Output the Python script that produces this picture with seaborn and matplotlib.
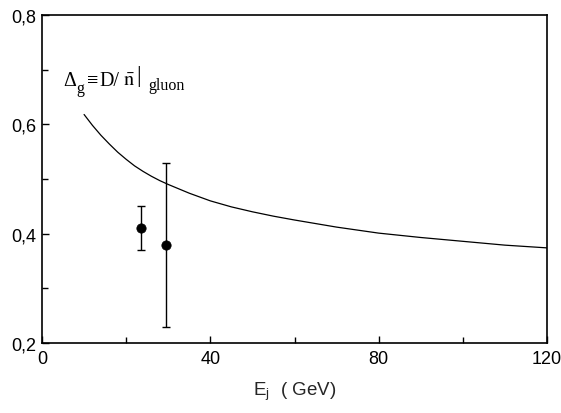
import matplotlib
matplotlib.use("Agg")
import matplotlib.pyplot as plt
import seaborn as sns
import pandas as pd
from matplotlib.ticker import FuncFormatter, MultipleLocator

# Theory curve
curve_x = [10, 12, 14, 16, 18, 20, 22, 24, 26, 28, 30, 35, 40, 45, 50, 55, 60, 70, 80, 90, 100, 110, 120]
curve_y = [0.618, 0.598, 0.580, 0.564, 0.549, 0.536, 0.524, 0.514, 0.505, 0.497, 0.490, 0.474, 0.460, 0.449,
           0.440, 0.432, 0.425, 0.412, 0.401, 0.393, 0.386, 0.379, 0.374]

# Data points
pt_x = [23.5, 29.4]
pt_y = [0.41, 0.38]
err_lo = [0.04, 0.15]
err_hi = [0.04, 0.15]

sns.set_theme(style="white")
plt.rcParams['font.family'] = ['Liberation Sans', 'DejaVu Sans']
plt.rcParams['mathtext.fontset'] = 'stix'

fig = plt.figure(figsize=(5.61, 4.14), dpi=100)
ax = fig.add_axes([42/561, 1-344/414, (547-42)/561, (344-16)/414])

curve = pd.DataFrame({"E": curve_x, "D": curve_y})
pts = pd.DataFrame({"E": pt_x, "D": pt_y})

sns.lineplot(data=curve, x="E", y="D", ax=ax, color="black", linewidth=0.9)
ax.errorbar(pt_x, pt_y, yerr=[err_lo, err_hi], fmt="none", ecolor="black",
            elinewidth=1.0, capsize=3, capthick=1.0)
sns.scatterplot(data=pts, x="E", y="D", ax=ax, color="black", s=45, edgecolor="black", zorder=5)

ax.set_xlim(0, 120)
ax.set_ylim(0.2, 0.8)
ax.xaxis.set_major_locator(MultipleLocator(40))
ax.xaxis.set_minor_locator(MultipleLocator(20))
ax.yaxis.set_major_locator(MultipleLocator(0.2))
ax.yaxis.set_minor_locator(MultipleLocator(0.1))
ax.xaxis.set_major_formatter(FuncFormatter(lambda v, p: f"{v:.0f}"))
ax.yaxis.set_major_formatter(FuncFormatter(lambda v, p: f"{v:.1f}".replace('.', ',')))

ax.tick_params(axis='both', which='both', direction='in', bottom=True, left=True,
               top=False, right=False, colors='black', labelsize=13)
ax.tick_params(which='major', length=5, width=1.0)
ax.tick_params(which='minor', length=4, width=1.0)
ax.tick_params(axis='x', pad=5)
ax.tick_params(axis='y', pad=4)

for s in ax.spines.values():
    s.set_color('black')
    s.set_linewidth(1.2)

ax.set_xlabel(r"E$_\mathregular{j}$  ( GeV)", fontsize=13.5, labelpad=9)
ax.set_ylabel("")

# Annotation built from pieces (serif), anchored at data point (5.0, 0.672)
anchor = (5.0, 0.672)
serif = ['Liberation Serif', 'DejaVu Serif']
pieces = [
    ("\u0394", 0, 0, 14.5),
    ("g", 13, -7, 11.5),
    ("\u2261", 24, 0, 14.5),
    ("D/", 36, 0, 14.5),
    ("gluon", 85, -4, 11.5),
]
for txt, dx, dy, fs in pieces:
    ax.annotate(txt, xy=anchor, xycoords='data', xytext=(dx, dy), textcoords='offset pixels',
                fontsize=fs, family=serif, ha='left', va='baseline', color='black')
ax.annotate(r"$\bar{\mathrm{n}}$", xy=anchor, xycoords='data', xytext=(60, 0),
            textcoords='offset pixels', fontsize=14.5, ha='left', va='baseline', color='black')
ax.annotate("|", xy=anchor, xycoords='data', xytext=(73, 9), textcoords='offset pixels',
            fontsize=17, family=serif, ha='left', va='center', color='black')

fig.savefig("out.png", dpi=100)
